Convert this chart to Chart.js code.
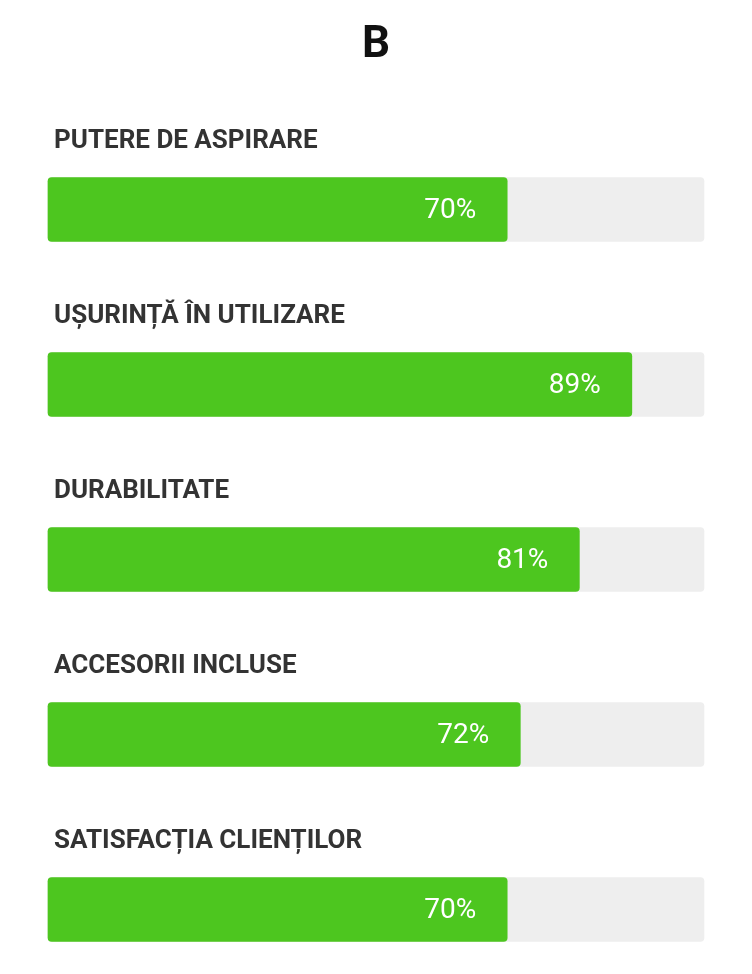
<!DOCTYPE html>
<html>
<head>
<meta charset="utf-8">
<script src="https://cdn.jsdelivr.net/npm/chart.js@4"></script>
<style>
  html, body { margin: 0; padding: 0; background: #ffffff; }
  #wrap { position: relative; width: 752px; height: 974px; }
</style>
</head>
<body>
<div id="wrap"><canvas id="c" width="752" height="974"></canvas></div>
<script>
const chartTitle = "B";
const categories = [
  "PUTERE DE ASPIRARE",
  "UȘURINȚĂ ÎN UTILIZARE",
  "DURABILITATE",
  "ACCESORII INCLUSE",
  "SATISFACȚIA CLIENȚILOR"
];
const scores = [70, 89, 81, 72, 70];
const trackMax = [100, 100, 100, 100, 100];

const labelsPlugin = {
  id: 'labelsPlugin',
  afterDatasetsDraw(chart) {
    const ctx = chart.ctx;
    const meta = chart.getDatasetMeta(0);
    ctx.save();
    // value labels inside bars
    ctx.font = '28px Roboto';
    ctx.fillStyle = '#ffffff';
    ctx.textAlign = 'right';
    ctx.textBaseline = 'middle';
    meta.data.forEach((bar, i) => {
      ctx.fillText(scores[i] + '%', bar.x - 31, bar.y + 1);
    });
    // category labels above bars
    ctx.font = 'bold 26px Roboto';
    ctx.fillStyle = '#333333';
    ctx.textAlign = 'left';
    ctx.textBaseline = 'alphabetic';
    meta.data.forEach((bar, i) => {
      ctx.fillText(categories[i], 54, bar.y - 62);
    });
    // title
    ctx.font = 'bold 44px Roboto';
    ctx.fillStyle = '#111111';
    ctx.textAlign = 'center';
    ctx.fillText(chartTitle, 376, 57);
    ctx.restore();
  }
};

new Chart(document.getElementById('c'), {
  type: 'bar',
  data: {
    labels: categories,
    datasets: [
      {
        data: scores,
        backgroundColor: '#4dc61f',
        borderRadius: 4,
        borderSkipped: false,
        barThickness: 64,
        grouped: false,
        order: 0,
        clip: false
      },
      {
        data: trackMax,
        backgroundColor: '#eeeeee',
        borderRadius: 4,
        borderSkipped: false,
        barThickness: 64,
        grouped: false,
        order: 1,
        clip: false
      }
    ]
  },
  options: {
    indexAxis: 'y',
    responsive: false,
    animation: false,
    layout: { padding: { top: 209.5, bottom: 64.5, left: 48, right: 48 } },
    plugins: { legend: { display: false }, tooltip: { enabled: false }, title: { display: false } },
    scales: {
      x: { display: false, min: 0, max: 100 },
      y: { display: false, offset: false }
    }
  },
  plugins: [labelsPlugin]
});
</script>
</body>
</html>
